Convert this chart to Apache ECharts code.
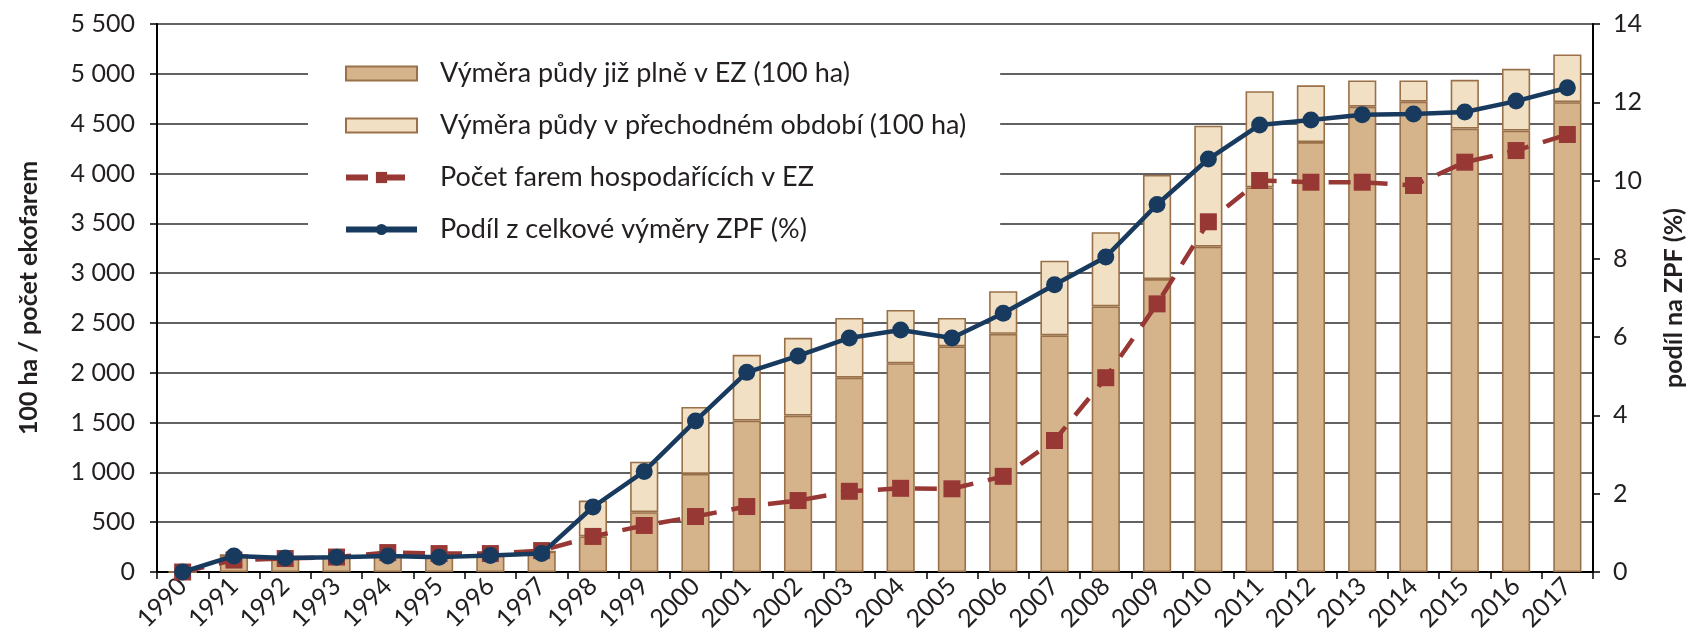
<!DOCTYPE html>
<html>
<head>
<meta charset="utf-8">
<script src="https://cdn.jsdelivr.net/npm/echarts@6/dist/echarts.min.js"></script>
<style>
html,body{margin:0;padding:0;background:#fff;}
#c{width:1694px;height:641px;}
</style>
</head>
<body>
<div id="c"></div>
<script>
const years = ['1990','1991','1992','1993','1994','1995','1996','1997','1998','1999','2000','2001','2002','2003','2004','2005','2006','2007','2008','2009','2010','2011','2012','2013','2014','2015','2016','2017'];
const fullyOrganic = [0,170,155,155,160,150,170,205,357,600,985,1520,1570,1950,2095,2265,2390,2375,2665,2940,3265,3860,4315,4670,4720,4450,4430,4715];
const transitional = [0,0,0,0,0,0,0,0,360,507,672,660,780,600,535,285,428,750,745,1045,1215,965,570,263,213,490,620,480];
const farms = [0,120,135,150,195,185,185,215,357,467,557,657,717,810,840,835,960,1320,1950,2691,3515,3929,3912,3912,3879,4113,4230,4391];
const share = [0,0.41,0.36,0.38,0.41,0.38,0.42,0.47,1.66,2.57,3.86,5.1,5.52,5.98,6.18,5.98,6.61,7.34,8.05,9.39,10.55,11.42,11.55,11.68,11.7,11.75,12.03,12.37];
const leftTicks = {min:0, max:5500, interval:500};
const rightTicks = {min:0, max:14, interval:2};

const FONT = 'Lato';
const TXT = '#231f20';
const fmtThousands = v => String(v).replace(/\B(?=(\d{3})+(?!\d))/g, ' ');

const chart = echarts.init(document.getElementById('c'), null, {renderer:'canvas'});
chart.setOption({
  animation:false,
  backgroundColor:'#fff',
  textStyle:{fontFamily:FONT},
  grid:{left:157, right:97, top:24, bottom:69, containLabel:false},
  legend:{
    orient:'vertical',
    left:308, top:40,
    backgroundColor:'#fff',
    padding:[20, 34, 18, 35],
    itemGap:25,
    itemWidth:71, itemHeight:14,
    lineStyle:{width:6},
    textStyle:{fontFamily:FONT, fontSize:27, color:TXT, padding:[0,0,0,18], lineHeight:24},
    data:[
      {name:'Výměra půdy již plně v EZ (100 ha)', icon:'rect'},
      {name:'Výměra půdy v přechodném období (100 ha)', icon:'rect'},
      'Počet farem hospodařících v EZ',
      'Podíl z celkové výměry ZPF (%)'
    ],
    z:5
  },
  xAxis:{
    type:'category', data:years, boundaryGap:true,
    axisLine:{lineStyle:{color:'#000', width:2}},
    axisTick:{show:true, inside:false, length:7, alignWithLabel:false, lineStyle:{color:'#000', width:1.5}},
    axisLabel:{rotate:45, fontSize:25, color:TXT, fontFamily:FONT, margin:10, interval:0},
    splitLine:{show:false}
  },
  yAxis:[
    {
      type:'value', min:leftTicks.min, max:leftTicks.max, interval:leftTicks.interval,
      name:'100 ha / počet ekofarem', nameLocation:'middle', nameGap:116, nameRotate:90,
      nameTextStyle:{fontFamily:FONT, fontWeight:'bold', fontSize:25, color:TXT},
      axisLine:{show:true, lineStyle:{color:'#000', width:2}},
      axisTick:{show:true, inside:false, length:7, lineStyle:{color:'#000', width:1.5}},
      axisLabel:{fontSize:25, color:TXT, fontFamily:FONT, margin:22, formatter:fmtThousands},
      splitLine:{show:true, lineStyle:{color:'#2e2e2e', width:1.6}}
    },
    {
      type:'value', min:rightTicks.min, max:rightTicks.max, interval:rightTicks.interval, position:'right',
      name:'podíl na ZPF (%)', nameLocation:'middle', nameGap:68, nameRotate:90,
      nameTextStyle:{fontFamily:FONT, fontWeight:'bold', fontSize:25, color:TXT},
      axisLine:{show:true, lineStyle:{color:'#000', width:2}},
      axisTick:{show:true, inside:false, length:7, lineStyle:{color:'#000', width:1.5}},
      axisLabel:{fontSize:25, color:TXT, fontFamily:FONT, margin:20},
      splitLine:{show:false}
    }
  ],
  series:[
    {
      name:'Výměra půdy již plně v EZ (100 ha)', type:'bar', stack:'area', data:fullyOrganic,
      barWidth:'55%', yAxisIndex:0,
      itemStyle:{color:'#d5b48c', borderColor:'#9a7048', borderWidth:1.6}
    },
    {
      name:'Výměra půdy v přechodném období (100 ha)', type:'bar', stack:'area', data:transitional,
      barWidth:'55%', yAxisIndex:0,
      itemStyle:{color:'#f1e0c4', borderColor:'#9a7048', borderWidth:1.6}
    },
    {
      name:'Počet farem hospodařících v EZ', type:'line', data:farms, yAxisIndex:0,
      symbol:'rect', symbolSize:17, showSymbol:true,
      lineStyle:{color:'#983834', width:4.5, type:[22,15]},
      itemStyle:{color:'#983834'}, z:3
    },
    {
      name:'Podíl z celkové výměry ZPF (%)', type:'line', data:share, yAxisIndex:1,
      symbol:'circle', symbolSize:17, showSymbol:true,
      lineStyle:{color:'#173a5e', width:4.5},
      itemStyle:{color:'#173a5e'}, z:4
    }
  ]
});
</script>
</body>
</html>
